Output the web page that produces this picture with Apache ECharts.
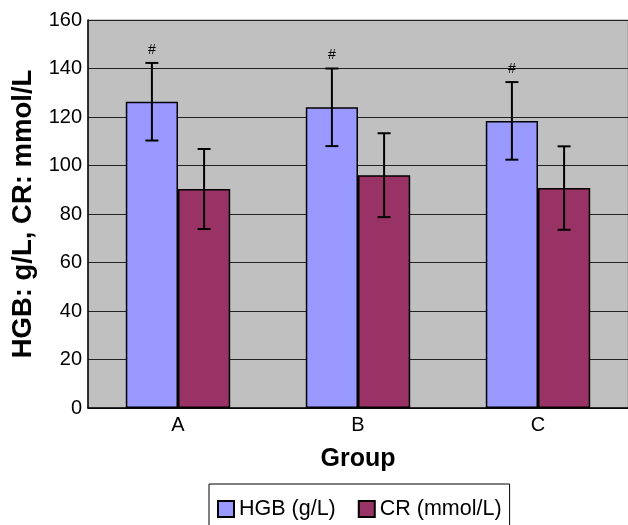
<!DOCTYPE html>
<html>
<head>
<meta charset="utf-8">
<script src="https://cdn.jsdelivr.net/npm/echarts@6/dist/echarts.min.js"></script>
<style>
  html, body { margin: 0; padding: 0; background: #fff; }
</style>
</head>
<body>
<div id="chart" style="width: 628px; height: 525px"></div>
<script>
// values
const groups = ["A", "B", "C"];
const hgbMean = [126.3, 124, 118.4];
const hgbSd = [16, 16, 16];
const crMean = [90.3, 96, 90.7];
const crSd = [16.5, 17.3, 17.2];
const hgbMarks = ["#", "#", "#"];
const yTicks = [0, 20, 40, 60, 80, 100, 120, 140, 160];

const font = '"Liberation Sans", Arial, sans-serif';
const barShare = 0.29;

function errorData(mean, sd) {
  return mean.map((m, i) => [i, m - sd[i], m + sd[i]]);
}

function errorBars(side, marks) {
  return function (params, api) {
    const i = api.value(0);
    const lo = api.coord([i, api.value(1)]);
    const hi = api.coord([i, api.value(2)]);
    const band = api.size([1, 0])[0];
    const x = lo[0] + side * band * barShare / 2;
    const cap = 6.5;
    const style = { stroke: "#000", lineWidth: 2 };
    const kids = [
      { type: "line", shape: { x1: x, y1: lo[1], x2: x, y2: hi[1] }, style: style },
      { type: "line", shape: { x1: x - cap, y1: lo[1], x2: x + cap, y2: lo[1] }, style: style },
      { type: "line", shape: { x1: x - cap, y1: hi[1], x2: x + cap, y2: hi[1] }, style: style }
    ];
    if (marks) {
      kids.push({
        type: "text",
        style: {
          text: marks[i], x: x, y: hi[1] - 13,
          align: "center", verticalAlign: "middle",
          font: "14px " + font, fill: "#000"
        }
      });
    }
    return { type: "group", children: kids };
  };
}

const myChart = echarts.init(document.getElementById("chart"));
const option = {
  animation: false,
  textStyle: { fontFamily: font, color: "#000" },
  grid: {
    left: 88, right: -6, top: 20, bottom: 117,
    show: true, backgroundColor: "#c0c0c0", borderColor: "#9a9a9a", borderWidth: 1
  },
  legend: {
    data: ["HGB (g/L)", "CR (mmol/L)"],
    left: 209, top: 484,
    padding: [14, 8, 14, 8],
    borderColor: "#000", borderWidth: 1,
    itemWidth: 16, itemHeight: 16, itemGap: 22,
    icon: "rect",
    textStyle: { fontFamily: font, fontSize: 21.5, color: "#000" }
  },
  xAxis: {
    type: "category",
    data: groups,
    name: "Group",
    nameLocation: "middle",
    nameGap: 39,
    nameTextStyle: { fontFamily: font, fontSize: 25, fontWeight: "bold", color: "#000" },
    axisLine: { lineStyle: { color: "#000", width: 1.5 } },
    axisTick: { inside: true, length: 8, lineStyle: { color: "#000" } },
    axisLabel: { fontSize: 20, color: "#000", margin: 7 }
  },
  yAxis: {
    type: "value",
    min: 0, max: 160, interval: 20,
    name: "HGB: g/L, CR: mmol/L",
    nameLocation: "middle",
    nameGap: 51,
    nameTextStyle: { fontFamily: font, fontSize: 27.5, fontWeight: "bold", color: "#000" },
    axisLine: { show: true, lineStyle: { color: "#000", width: 1.5 } },
    axisTick: { show: false },
    axisLabel: {
      fontSize: 20, color: "#000", margin: 6,
      formatter: v => (yTicks.includes(v) ? String(v) : "")
    },
    splitLine: { lineStyle: { color: "#222", width: 1 } }
  },
  series: [
    {
      name: "HGB (g/L)", type: "bar", data: hgbMean,
      barWidth: "29%", barGap: "0%",
      itemStyle: { color: "#9999ff", borderColor: "#000", borderWidth: 1.5 }
    },
    {
      name: "CR (mmol/L)", type: "bar", data: crMean,
      barWidth: "29%", barGap: "0%",
      itemStyle: { color: "#993366", borderColor: "#000", borderWidth: 1.5 }
    },
    {
      type: "custom", data: errorData(hgbMean, hgbSd),
      renderItem: errorBars(-1, hgbMarks), z: 5, silent: true
    },
    {
      type: "custom", data: errorData(crMean, crSd),
      renderItem: errorBars(1, null), z: 5, silent: true
    }
  ]
};
myChart.setOption(option);
window.addEventListener("resize", function () {
  myChart.resize();
});
</script>
</body>
</html>
